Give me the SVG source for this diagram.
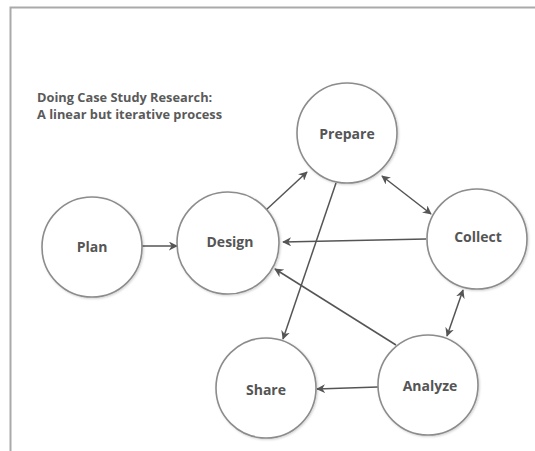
<svg xmlns="http://www.w3.org/2000/svg" width="535" height="451" viewBox="0 0 535 451">
<style>
.node circle{fill:#fff;stroke:#8c8c8c;stroke-width:1.6}
.node text{font-family:"Open Sans","Liberation Sans",sans-serif;font-weight:bold;font-size:14px;fill:#555;text-anchor:middle}
.title{font-family:"Open Sans","Liberation Sans",sans-serif;font-weight:bold;font-size:12.8px;fill:#5a5a5a}
.conn line{stroke:#555;stroke-width:1.5;fill:none}
</style>
<defs>
<marker id="ah" viewBox="0 0 10 10" refX="9" refY="5" markerWidth="9" markerHeight="9" orient="auto-start-reverse" markerUnits="userSpaceOnUse">
<path d="M0,0 L10,5 L0,10 L3,5 Z" fill="#555"/>
</marker>
<filter id="sh" x="-20%" y="-20%" width="140%" height="140%">
<feDropShadow dx="1" dy="1" stdDeviation="1.2" flood-color="#000" flood-opacity="0.18"/>
</filter>
</defs>
<rect width="535" height="451" fill="#fff"/>
<path d="M10.5,451 V7.5 H535" fill="none" stroke="#aaa" stroke-width="2"/>
<text class="title" x="37" y="102">Doing Case Study Research:</text>
<text class="title" x="37" y="119">A linear but iterative process</text>
<g class="conn">
<line x1="142" y1="246" x2="177" y2="246" marker-end="url(#ah)"/>
<line x1="266" y1="210" x2="307" y2="172" marker-end="url(#ah)"/>
<line x1="336" y1="183" x2="283" y2="339" marker-end="url(#ah)"/>
<line x1="382" y1="176" x2="431" y2="214" marker-start="url(#ah)" marker-end="url(#ah)"/>
<line x1="426" y1="239" x2="283" y2="242" marker-end="url(#ah)"/>
<line x1="396" y1="345" x2="275" y2="269" marker-end="url(#ah)"/>
<line x1="463" y1="290" x2="447" y2="336" marker-start="url(#ah)" marker-end="url(#ah)"/>
<line x1="378" y1="387" x2="317" y2="389" marker-end="url(#ah)"/>
</g>
<g id="plan" class="node"><circle cx="92" cy="247" r="50" filter="url(#sh)"/><text x="92" y="252">Plan</text></g>
<g id="design" class="node"><circle cx="228" cy="243" r="51" filter="url(#sh)"/><text x="230" y="247">Design</text></g>
<g id="prepare" class="node"><circle cx="347" cy="133" r="50" filter="url(#sh)"/><text x="347" y="139">Prepare</text></g>
<g id="collect" class="node"><circle cx="477" cy="239" r="50" filter="url(#sh)"/><text x="478" y="242">Collect</text></g>
<g id="share" class="node"><circle cx="266" cy="388" r="50" filter="url(#sh)"/><text x="266" y="395">Share</text></g>
<g id="analyze" class="node"><circle cx="428" cy="385" r="50" filter="url(#sh)"/><text x="430" y="391">Analyze</text></g>
</svg>
